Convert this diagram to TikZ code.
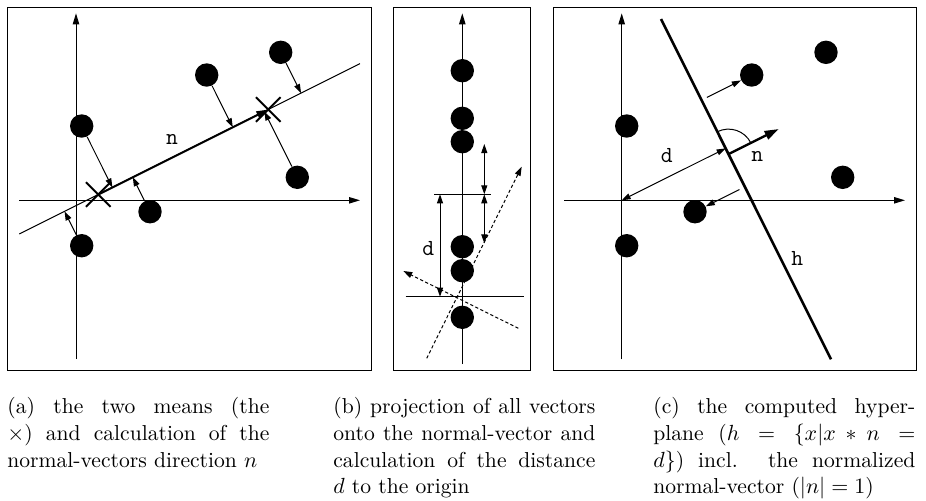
\documentclass[tikz,border=0pt]{standalone}
\usepackage{amsmath}
\usepackage{tikz}
\usetikzlibrary{arrows.meta,calc,shapes.misc}

\newcommand{\capfont}{\fontsize{10.8}{13.35}\selectfont}

\begin{document}
\begin{tikzpicture}[
    x=0.5pt, y=-0.5pt,
    frame/.style={draw, line width=0.65pt},
    axis/.style={line width=0.5pt, -{Triangle[length=5.5pt,width=3.2pt]}},
    proj/.style={line width=0.5pt, -{Triangle[length=4.5pt,width=3pt]}},
    dim/.style={line width=0.5pt, {Triangle[length=4.5pt,width=3pt]}-{Triangle[length=4.5pt,width=3pt]}},
    dotted axis/.style={line width=0.5pt, dash pattern=on 1.6pt off 1.2pt,
                        -{Triangle[length=4.5pt,width=3pt]}},
    dot/.style={circle, fill, inner sep=0pt, minimum size=11.7pt},
    mean/.style={cross out, draw, line width=1pt, inner sep=0pt, minimum size=11.3pt},
    tag/.style={font=\ttfamily\fontsize{11.5}{11.5}\selectfont, inner sep=0pt},
    caption/.style={anchor=north west, inner sep=0pt, text width=131pt,
                    align=justify, font=\capfont}
]
    \useasboundingbox (0,0) rectangle (926,500);

    % (a) the two means
    \draw[frame] (7.3,7.3) rectangle (371.7,370.7);
    \draw[axis] (76,359) -- (76,13.3);
    \draw[axis] (19.3,200.3) -- (360,200.3);
    \coordinate (l1) at (19.3,234);
    \coordinate (l2) at (360,63.65);
    \draw[line width=0.5pt] (l1) -- (l2);

    \node[mean] (m1) at (98.3,194.5) {};
    \node[mean] (m2) at (268.3,109.5) {};
    \draw[line width=1pt, -{Triangle[length=6pt,width=3.6pt]}]
        (m1.center) -- (m2.center);
    \node[tag] (na) at (172,139) {n};

    \node[dot] (a1) at (81.7,126) {};
    \node[dot] (a2) at (81.7,245.7) {};
    \node[dot] (a3) at (150,211.7) {};
    \node[dot] (a4) at (206.7,75) {};
    \node[dot] (a5) at (280.7,52.3) {};
    \node[dot] (a6) at (297.3,177.3) {};

    \draw[proj] (a1) -- ($(l1)!(a1)!(l2)$);
    \draw[proj] (a2) -- ($(l1)!(a2)!(l2)$);
    \draw[proj] (a3) -- ($(l1)!(a3)!(l2)$);
    \draw[proj] (a4) -- ($(l1)!(a4)!(l2)$);
    \draw[proj] (a5) -- ($(l1)!(a5)!(l2)$);
    \draw[proj] (a6) -- ($(l1)!(a6)!(l2)$);

    % (b) projection onto n
    \draw[frame] (393.3,7.3) rectangle (530.4,370.7);
    \draw[axis] (462.3,364) -- (462.3,13.3);
    \draw[line width=0.5pt] (434.3,194.3) -- (491,194.3);
    \draw[line width=0.5pt] (405.7,296.7) -- (524.3,296.7);

    \coordinate (s1) at (426.7,358.3);
    \coordinate (s2) at (521.7,166.7);
    \coordinate (s3) at (518.3,328.3);
    \coordinate (s4) at (403.3,271);
    \draw[dotted axis] (s1) -- (s2);
    \draw[dotted axis] (s3) -- (s4);

    \node[dot] (b1) at (462.3,70.7) {};
    \node[dot] (b2) at (462.3,118.3) {};
    \node[dot] (b3) at (462.3,141.7) {};
    \node[dot] (b4) at (462.3,246.7) {};
    \node[dot] (b5) at (462.3,270.7) {};
    \node[dot] (b6) at (462.3,317.3) {};

    \coordinate (u0) at (440,194.3);
    \coordinate (u1) at (440,296.7);
    \coordinate (r0) at (484.3,144);
    \coordinate (r1) at (484.3,194.3);
    \coordinate (r2) at (484.3,243.3);
    \draw[dim] (u0) -- (u1);
    \draw[dim] (r0) -- (r1);
    \draw[dim] (r1) -- (r2);
    \node[tag] (db) at (428.3,248.3) {d};

    % (c) the hyperplane
    \draw[frame] (553.3,7.3) rectangle (916.7,370.7);
    \draw[axis] (621.7,359.3) -- (621.7,13.3);
    \draw[axis] (564.3,200.3) -- (905,200.3);
    \coordinate (oc) at (621.7,200.3);
    \coordinate (h1) at (661,19);
    \coordinate (h2) at (831,359.3);
    \draw[line width=1.3pt] (h1) -- (h2);

    \node[dot] (c1) at (626.7,126) {};
    \node[dot] (c2) at (626.7,245.7) {};
    \node[dot] (c3) at (695,211.7) {};
    \node[dot] (c4) at (751.7,75) {};
    \node[dot] (c5) at (826,52.3) {};
    \node[dot] (c6) at (842.7,177.3) {};

    \coordinate (fc) at ($(h1)!(oc)!(h2)$);
    \draw[dim] (oc) -- (fc);
    \coordinate (nc0) at ($(fc)!3.2pt!(h2)$);
    \coordinate (nc1) at ($(nc0)!28pt!90:(h2)$);
    \draw[line width=1.2pt, -{Triangle[length=7pt,width=4.5pt]}] (nc0) -- (nc1);
    \draw[line width=0.5pt] ($(nc0)!12.5pt!90:(h2)$)
        arc[start angle=26.57, end angle=116.57, radius=12.5pt];

    \draw[proj, shorten <=3pt] ($(h1)!(c4)!(h2)$) -- (c4);
    \draw[proj, shorten <=3pt] ($(h1)!(c3)!(h2)$) -- (c3);

    \node[tag] (dc) at (666.7,156) {d};
    \node[tag] (nc) at (757.3,156) {n};
    \node[tag] (hc) at (797.3,258.3) {h};

    % captions
    \node[caption] (capa) at (7,397)
        {(a) the two means (the\linebreak
         $\times$) and calculation of the\linebreak
         normal-vectors direction $n$};
    \node[caption] (capb) at (333,397)
        {(b) projection of all vectors\linebreak
         onto the normal-vector and\linebreak
         calculation of the distance\linebreak
         $d$ to the origin};
    \node[caption] (capc) at (653,397)
        {(c) the computed hyper-\linebreak
         plane ($h = \{x|x*n =$\linebreak
         $d\}$) incl. the normalized\linebreak
         normal-vector ($|n| = 1$)};
\end{tikzpicture}
\end{document}
